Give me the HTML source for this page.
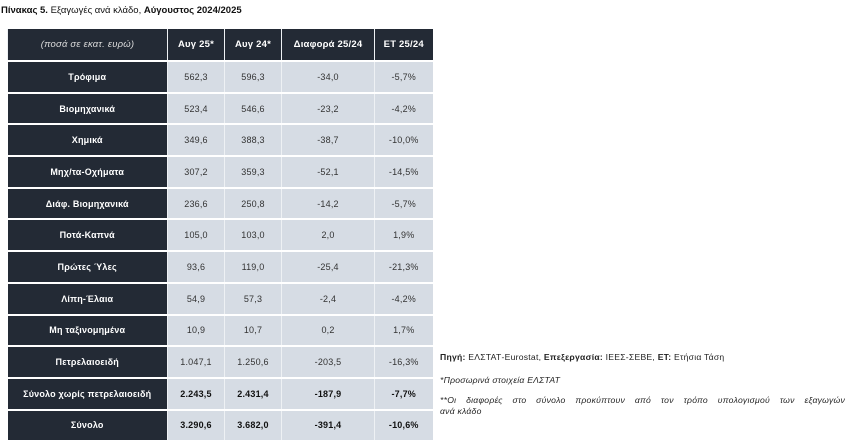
<!DOCTYPE html>
<html><head><meta charset="utf-8"><style>
body{margin:0;width:850px;height:443px;background:#fff;font-family:"Liberation Sans","DejaVu Sans",sans-serif;position:relative;overflow:hidden}
.title{position:absolute;left:1px;top:5px;font-size:9.5px;color:#111}
table{position:absolute;left:7px;top:29px;border-collapse:collapse;table-layout:fixed;width:425px}
td{height:29.7px;padding:0;text-align:center;font-size:9px;letter-spacing:0.2px;color:#333;background:#d6dce4;border-top:2px solid #fff;border-left:1px solid #eef1f4}
td.h{background:#232a35;color:#fff;font-weight:bold;border-left:none}
tr.hd td{background:#232a35;color:#fff;font-weight:bold;border-top:none;height:31px;font-size:9.5px}
tr.hd td.i{font-style:italic;font-weight:normal;color:#ddd}
tr.b td{font-weight:bold;color:#111}
tr.b td.h{color:#fff}
.n{position:absolute;left:440px;font-size:8.6px;color:#222;letter-spacing:0.25px}
</style></head><body>
<div class="title"><b>Πίνακας 5.</b> Εξαγωγές ανά κλάδο, <b>Αύγουστος 2024/2025</b></div>
<table>
<colgroup><col style="width:160px"><col style="width:57px"><col style="width:57px"><col style="width:93px"><col style="width:58px"></colgroup>
<tr class="hd"><td class="i">(ποσά σε εκατ. ευρώ)</td><td>Αυγ 25*</td><td>Αυγ 24*</td><td>Διαφορά 25/24</td><td>ΕΤ 25/24</td></tr>
<tr><td class="h">Τρόφιμα</td><td>562,3</td><td>596,3</td><td>-34,0</td><td>-5,7%</td></tr>
<tr><td class="h">Βιομηχανικά</td><td>523,4</td><td>546,6</td><td>-23,2</td><td>-4,2%</td></tr>
<tr><td class="h">Χημικά</td><td>349,6</td><td>388,3</td><td>-38,7</td><td>-10,0%</td></tr>
<tr><td class="h">Μηχ/τα-Οχήματα</td><td>307,2</td><td>359,3</td><td>-52,1</td><td>-14,5%</td></tr>
<tr><td class="h">Διάφ. Βιομηχανικά</td><td>236,6</td><td>250,8</td><td>-14,2</td><td>-5,7%</td></tr>
<tr><td class="h">Ποτά-Καπνά</td><td>105,0</td><td>103,0</td><td>2,0</td><td>1,9%</td></tr>
<tr><td class="h">Πρώτες Ύλες</td><td>93,6</td><td>119,0</td><td>-25,4</td><td>-21,3%</td></tr>
<tr><td class="h">Λίπη-Έλαια</td><td>54,9</td><td>57,3</td><td>-2,4</td><td>-4,2%</td></tr>
<tr><td class="h">Μη ταξινομημένα</td><td>10,9</td><td>10,7</td><td>0,2</td><td>1,7%</td></tr>
<tr><td class="h">Πετρελαιοειδή</td><td>1.047,1</td><td>1.250,6</td><td>-203,5</td><td>-16,3%</td></tr>
<tr class="b"><td class="h">Σύνολο χωρίς πετρελαιοειδή</td><td>2.243,5</td><td>2.431,4</td><td>-187,9</td><td>-7,7%</td></tr>
<tr class="b"><td class="h">Σύνολο</td><td>3.290,6</td><td>3.682,0</td><td>-391,4</td><td>-10,6%</td></tr>
</table>
<div class="n" style="top:352px"><b>Πηγή:</b> ΕΛΣΤΑΤ-Eurostat, <b>Επεξεργασία:</b> ΙΕΕΣ-ΣΕΒΕ, <b>ΕΤ:</b> Ετήσια Τάση</div>
<div class="n" style="top:375px;font-style:italic">*Προσωρινά στοιχεία ΕΛΣΤΑΤ</div>
<div class="n" style="top:395px;font-style:italic;width:405px;line-height:11px;"><div style="text-align:justify;text-align-last:justify">**Οι διαφορές στο σύνολο προκύπτουν από τον τρόπο υπολογισμού των εξαγωγών</div><div>ανά κλάδο</div></div>
</body></html>
